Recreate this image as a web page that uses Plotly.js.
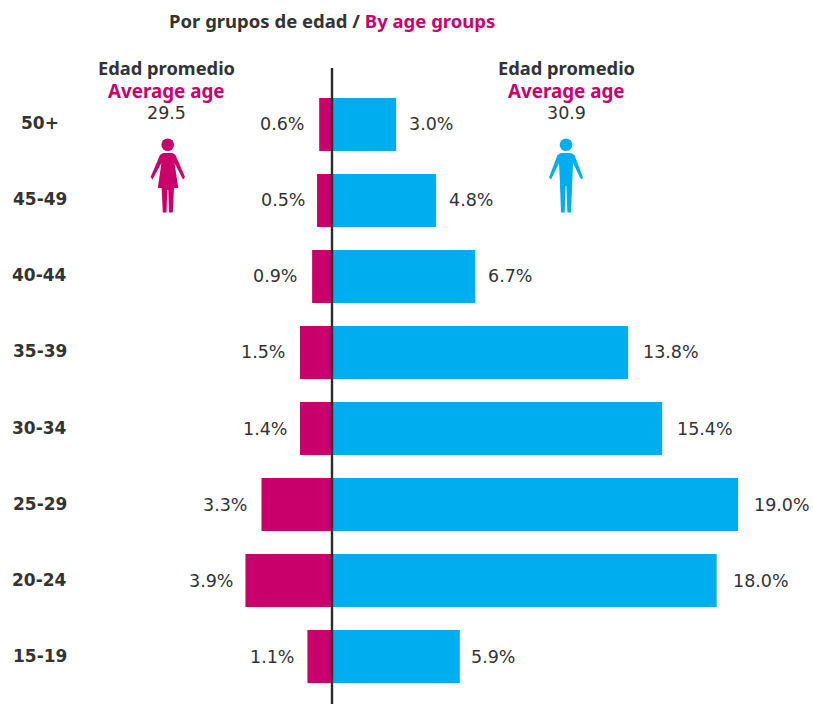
<!DOCTYPE html>
<html><head><meta charset="utf-8">
<script src="https://cdn.plot.ly/plotly-3.0.1.min.js"></script>
<style>html,body{margin:0;padding:0;background:#fff}#c{width:813px;height:704px}</style>
</head><body><div id="c"></div>
<script>
const ageGroups = ['15-19','20-24','25-29','30-34','35-39','40-44','45-49','50+'];
// printed labels
const femaleLabels = ['1.1%','3.9%','3.3%','1.4%','1.5%','0.9%','0.5%','0.6%'];
const maleLabels = ['5.9%','18.0%','19.0%','15.4%','13.8%','6.7%','4.8%','3.0%'];
// bar lengths as drawn in the picture
const femaleBars = [1.15,4.05,3.3,1.5,1.5,0.93,0.7,0.6];
const maleBars = [5.98,18.0,19.0,15.45,13.85,6.7,4.87,3.0];
const femaleGaps = [13,12,14,13,15,15,12,15];
const maleGaps = [12,17,16,15,16,13,13,13];

const MAGENTA='#C9006B', BLUE='#00ADEE', DARK='#333333';
const FONT='"Noto Sans", sans-serif', NUMFONT='"DejaVu Sans", sans-serif';
const W=813,H=704, ZERO=332, PPU=21.37;
const xRange=[-ZERO/PPU,(W-ZERO)/PPU];
const yRange=[-0.625,8.638];

const traces=[
 {type:'bar',orientation:'h',name:'Mujeres',y:ageGroups,x:femaleBars.map(v=>-v),marker:{color:MAGENTA},width:0.697,hoverinfo:'y+text',text:femaleLabels,textposition:'none'},
 {type:'bar',orientation:'h',name:'Hombres',y:ageGroups,x:maleBars,marker:{color:BLUE},width:0.697,hoverinfo:'y+text',text:maleLabels,textposition:'none'}
];

const annotations=[];
const note=(o)=>annotations.push(Object.assign({showarrow:false,font:{family:NUMFONT,size:17.5,color:DARK},yanchor:'middle'},o));
ageGroups.forEach((g,i)=>{
  note({xref:'paper',x:39.5/W,xanchor:'center',yref:'y',y:i,yshift:1,text:'<b>'+g+'</b>',font:{family:NUMFONT,size:17,color:DARK}});
  note({xref:'x',x:-femaleBars[i],xanchor:'right',xshift:-femaleGaps[i]+2,yref:'y',y:i,yshift:0,text:femaleLabels[i]});
  note({xref:'x',x:maleBars[i],xanchor:'left',xshift:maleGaps[i]-2.5,yref:'y',y:i,yshift:0,text:maleLabels[i]});
});
const px=(x)=>x/W, py=(y)=>1-y/H;
note({xref:'paper',yref:'paper',x:px(331.5),y:py(20),xanchor:'center',font:{family:FONT,size:18.5,color:DARK},text:'<b>Por grupos de edad / <span style="color:'+MAGENTA+'">By age groups</span></b>'});
[[166,'29.5'],[566,'30.9']].forEach(([cx,age])=>{
  note({xref:'paper',yref:'paper',x:px(cx),y:py(67.5),xanchor:'center',font:{family:FONT,size:18.3,color:DARK},text:'<b>Edad promedio</b>'});
  note({xref:'paper',yref:'paper',x:px(cx),y:py(90.5),xanchor:'center',font:{family:FONT,size:18.8,color:MAGENTA},text:'<b>Average age</b>'});
  note({xref:'paper',yref:'paper',x:px(cx+0.5),y:py(113),xanchor:'center',font:{family:NUMFONT,size:17.5,color:DARK},text:age});
});

// person icons, outline points in page pixels converted to paper units
const poly=(pts)=>'M'+pts.map(p=>px(p[0]).toFixed(5)+','+py(p[1]).toFixed(5)).join(' L')+' Z';
const womanPts=[[163,153],[172.5,153],[175.5,155],[185,177],[183,179.5],[174.5,163],[178.3,188],[174,188],[172.8,212.5],[169,212.5],[168.3,190],[167.3,190],[166.5,212.5],[162.8,212.5],[161.6,188],[157.8,188],[161.4,163],[152.5,179.5],[150.6,177],[160,155]];
const manPts=[[561,153],[571,153],[574.5,155],[583,177.5],[581,179.5],[573,163],[572.3,180],[571,212.5],[567.3,212.5],[566.4,186],[565.6,186],[564.7,212.5],[561,212.5],[559.8,180],[559,163],[551,179.5],[549,177.5],[557.5,155]];
const circle=(cx,cy,r,c)=>({type:'circle',xref:'paper',yref:'paper',x0:px(cx-r),x1:px(cx+r),y0:py(cy+r),y1:py(cy-r),fillcolor:c,line:{width:0}});
const shapes=[
 {type:'line',xref:'x',yref:'paper',x0:0,x1:0,y0:0,y1:py(68),line:{color:'#2a2a2a',width:2.4},layer:'above'},
 circle(167.7,144.7,6.3,MAGENTA),
 circle(566,144.7,6.3,BLUE),
 {type:'path',xref:'paper',yref:'paper',path:poly(womanPts),fillcolor:MAGENTA,line:{width:0}},
 {type:'path',xref:'paper',yref:'paper',path:poly(manPts),fillcolor:BLUE,line:{width:0}}
];

Plotly.newPlot('c',traces,{
 width:W,height:H,margin:{l:0,r:0,t:0,b:0},
 paper_bgcolor:'#fff',plot_bgcolor:'#fff',
 barmode:'relative',showlegend:false,
 xaxis:{range:xRange,visible:false,fixedrange:true},
 yaxis:{type:'category',categoryorder:'array',categoryarray:ageGroups,range:yRange,visible:false,fixedrange:true},
 annotations,shapes,
 font:{family:FONT}
},{displayModeBar:false,staticPlot:true});
</script></body></html>
